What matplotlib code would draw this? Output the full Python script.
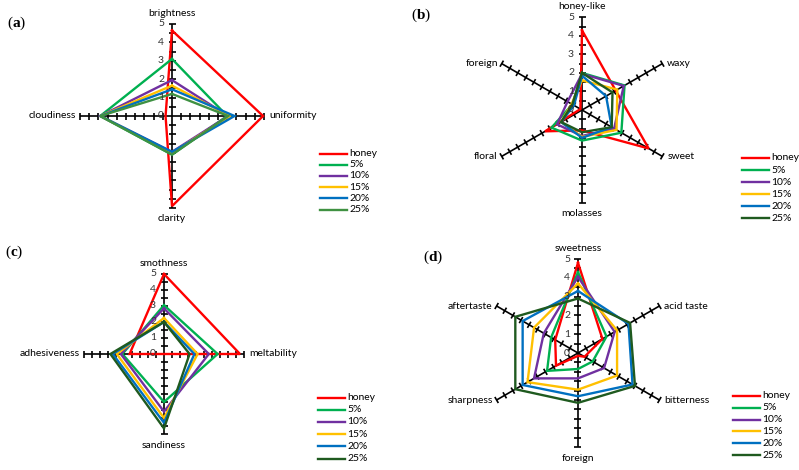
import numpy as np
import matplotlib
matplotlib.use("Agg")
import matplotlib.pyplot as plt
from matplotlib.lines import Line2D
from matplotlib.collections import LineCollection

plt.rcParams['font.family'] = ['Lato', 'DejaVu Sans']
plt.rcParams['mathtext.fontset'] = 'custom'
plt.rcParams['mathtext.rm'] = 'Liberation Serif'
plt.rcParams['mathtext.bf'] = 'Liberation Serif:bold'

series = ['honey', '5%', '10%', '15%', '20%', '25%']

# (a) appearance
a_cats = ['brightness', 'uniformity', 'clarity', 'cloudiness']
a_honey = [4.65, 4.95, 4.9, 0.35]
a_5 = [3.1, 3.0, 2.1, 3.9]
a_10 = [1.95, 3.05, 1.95, 3.9]
a_15 = [1.65, 3.15, 2.0, 3.9]
a_20 = [1.45, 3.4, 1.95, 3.9]
a_25 = [1.2, 3.05, 2.1, 3.9]

# (b) aroma
b_cats = ['honey-like', 'waxy', 'sweet', 'molasses', 'floral', 'foreign']
b_honey = [4.3, 2.1, 4.15, 1.1, 2.3, 0.1]
b_5 = [2.0, 2.65, 2.45, 1.65, 1.9, 0.6]
b_10 = [1.95, 2.6, 2.0, 1.4, 1.55, 0.9]
b_15 = [1.6, 2.2, 2.15, 1.45, 1.3, 0.65]
b_20 = [1.85, 1.5, 1.85, 1.5, 1.3, 0.5]
b_25 = [2.0, 1.9, 1.85, 1.2, 1.3, 0.6]

# (c) texture
c_cats = ['smothness', 'meltability', 'sandiness', 'adhesiveness']
c_honey = [5.0, 4.75, 0.0, 2.15]
c_5 = [3.05, 3.35, 3.0, 2.6]
c_10 = [2.85, 2.8, 3.6, 2.7]
c_15 = [2.25, 2.1, 4.0, 2.95]
c_20 = [2.0, 1.9, 4.3, 3.2]
c_25 = [2.0, 1.6, 4.65, 3.35]

# (d) taste
d_cats = ['sweetness', 'acid taste', 'bitterness', 'foreign', 'sharpness', 'aftertaste']
d_honey = [4.8, 1.5, 0.4, 0.15, 1.35, 1.4]
d_5 = [4.3, 1.75, 0.9, 0.85, 1.9, 1.65]
d_10 = [4.05, 2.25, 1.6, 1.35, 2.7, 2.1]
d_15 = [3.7, 2.4, 2.4, 1.95, 3.1, 2.7]
d_20 = [3.3, 3.1, 3.35, 2.3, 3.4, 3.4]
d_25 = [2.9, 3.2, 3.5, 2.65, 3.85, 3.85]

colors_a = ['#ff0000', '#00b050', '#7030a0', '#ffc000', '#0070c0', '#3f9142']
colors = ['#ff0000', '#00b050', '#7030a0', '#ffc000', '#0070c0', '#1f5a1f']

W, H = 799, 470
fig = plt.figure(figsize=(W / 100, H / 100), dpi=100)
FS = 7.5


def radar(cx, cy, R, cats, data, cols, tag, tag_xy, leg_xy, leg_dy):
    ppu = R / 5.0  # pixels per unit
    half = 130
    ax = fig.add_axes([(cx - half) / W, 1 - (cy + half) / H, 2 * half / W, 2 * half / H])
    lim = half / ppu
    ax.set_xlim(-lim, lim)
    ax.set_ylim(-lim, lim)
    ax.axis('off')

    n = len(cats)
    ang = np.pi / 2 - 2 * np.pi * np.arange(n) / n
    cs, sn = np.cos(ang), np.sin(ang)

    # spokes and tick marks
    tl = 3.5 / ppu
    segs = []
    for c, s in zip(cs, sn):
        segs.append([(0, 0), (5 * c, 5 * s)])
        for v in np.arange(0.5, 5.01, 0.5):
            segs.append([(v * c - tl * s, v * s + tl * c), (v * c + tl * s, v * s - tl * c)])
    ax.add_collection(LineCollection(segs, colors='black', linewidths=1.2, zorder=1))

    # value labels
    for v in range(6):
        ax.text(-8 / ppu, v, str(v), ha='right', va='center', fontsize=FS, color='#333333')

    # category labels
    for lab, c, s in zip(cats, cs, sn):
        x, y = 5 * c, 5 * s
        if abs(c) < 1e-6:
            off = 11 / ppu
            ax.text(0, y + np.sign(s) * off, lab, ha='center', va='center', fontsize=FS)
        elif c > 0:
            ax.text(x + 5 / ppu, y, lab, ha='left', va='center', fontsize=FS)
        else:
            ax.text(x - 4 / ppu, y, lab, ha='right', va='center', fontsize=FS)

    # data polygons
    for vals, col in zip(data, cols):
        r = np.append(vals, vals[0])
        a = np.append(ang, ang[0])
        ax.plot(r * np.cos(a), r * np.sin(a), color=col, lw=1.7, zorder=2,
                solid_joinstyle='miter')

    # panel tag
    fig.text(tag_xy[0] / W, 1 - tag_xy[1] / H, r'$\mathrm{(}\mathbf{%s}\mathrm{)}$' % tag,
             ha='center', va='center', fontsize=11)

    # legend
    lx, ly = leg_xy
    for i, (name, col) in enumerate(zip(series, cols)):
        yy = 1 - (ly + i * leg_dy) / H
        fig.add_artist(Line2D([lx / W, (lx + 27) / W], [yy, yy], color=col, lw=1.7,
                              transform=fig.transFigure))
        fig.text((lx + 29) / W, yy, name, ha='left', va='center', fontsize=FS)


radar(172, 116, 92, a_cats, [a_honey, a_5, a_10, a_15, a_20, a_25], colors_a, 'a',
      (17, 23), (320, 153.5), 11.2)
radar(582, 110, 92.7, b_cats, [b_honey, b_5, b_10, b_15, b_20, b_25], colors, 'b',
      (421, 15), (742, 158), 12.1)
radar(164, 354, 80, c_cats, [c_honey, c_5, c_10, c_15, c_20, c_25], colors, 'c',
      (14, 252), (318, 397.5), 12.2)
radar(578, 353, 94, d_cats, [d_honey, d_5, d_10, d_15, d_20, d_25], colors, 'd',
      (433, 257), (733, 396), 11.8)

fig.savefig('out.png', dpi=100)
